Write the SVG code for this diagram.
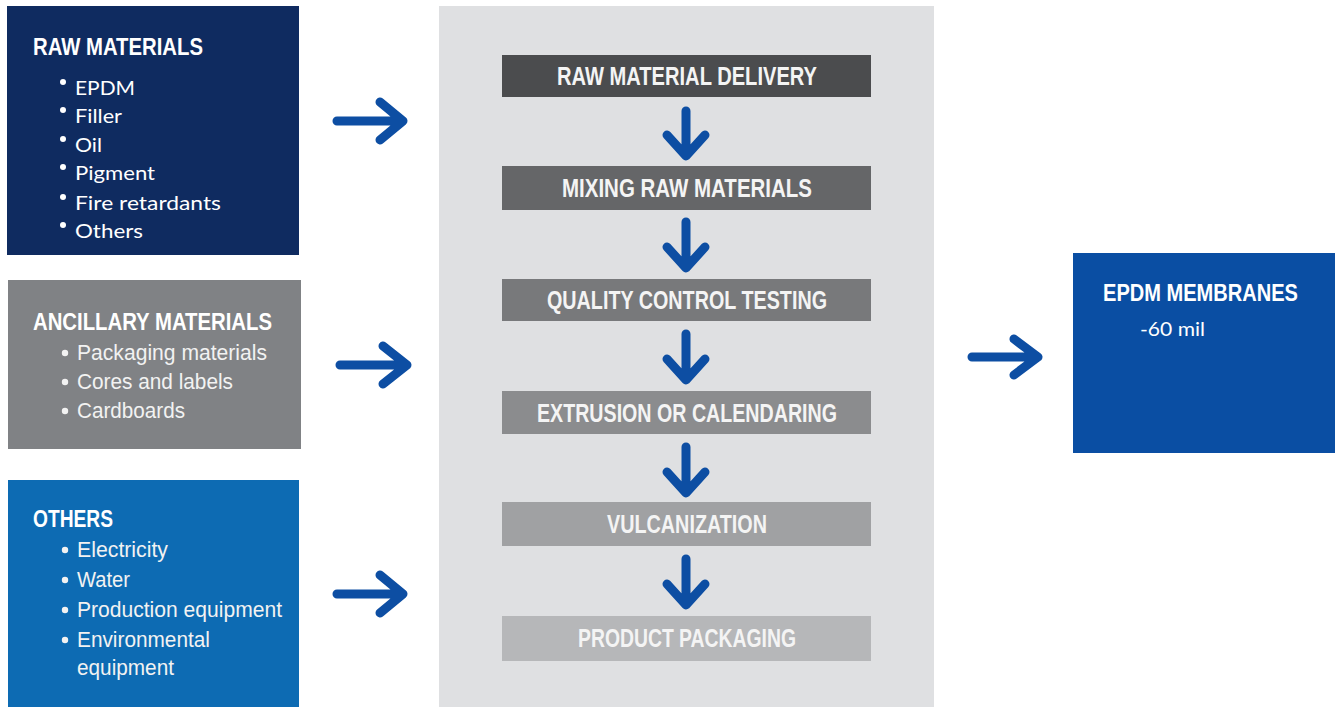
<svg xmlns="http://www.w3.org/2000/svg" width="1335" height="707" viewBox="0 0 1335 707">
<style>
.title{font-family:"Liberation Sans",Arial,sans-serif;font-weight:bold;font-size:23px;fill:#ffffff}
.step{font-family:"Liberation Sans",Arial,sans-serif;font-weight:bold;font-size:25px;fill:#f4f4f4}
.item{font-family:"Liberation Sans",Arial,sans-serif;font-size:22px;fill:#f2f2f2}
.cal{font-family:Lato,"Open Sans",sans-serif;font-size:19px;fill:#ffffff}
.arr{fill:none;stroke:#0d4ea3;stroke-width:9;stroke-linecap:round;stroke-linejoin:round}
</style>
<rect width="1335" height="707" fill="#ffffff"/>
<g id="raw-materials">
<rect x="7" y="6" width="292" height="249" fill="#0f2b60"/>
<text class="title" x="33" y="55" textLength="170" lengthAdjust="spacingAndGlyphs">RAW MATERIALS</text>
<g fill="#ffffff"><circle cx="63" cy="82" r="3"/><circle cx="63" cy="110" r="3"/><circle cx="63" cy="139" r="3"/><circle cx="63" cy="167" r="3"/><circle cx="63" cy="197" r="3"/><circle cx="63" cy="225" r="3"/></g>
<text class="cal" x="75" y="95" textLength="60" lengthAdjust="spacingAndGlyphs">EPDM</text>
<text class="cal" x="75" y="123" textLength="47" lengthAdjust="spacingAndGlyphs">Filler</text>
<text class="cal" x="75" y="152" textLength="27" lengthAdjust="spacingAndGlyphs">Oil</text>
<text class="cal" x="75" y="180" textLength="80" lengthAdjust="spacingAndGlyphs">Pigment</text>
<text class="cal" x="75" y="210" textLength="146" lengthAdjust="spacingAndGlyphs">Fire retardants</text>
<text class="cal" x="75" y="238" textLength="68" lengthAdjust="spacingAndGlyphs">Others</text>
</g>
<g id="ancillary-materials">
<rect x="8" y="280" width="293" height="169" fill="#808285"/>
<text class="title" x="33" y="330" textLength="239" lengthAdjust="spacingAndGlyphs">ANCILLARY MATERIALS</text>
<g fill="#f2f2f2"><circle cx="65" cy="353" r="3.2"/><circle cx="65" cy="382" r="3.2"/><circle cx="65" cy="411" r="3.2"/></g>
<text class="item" x="77" y="360" textLength="190" lengthAdjust="spacingAndGlyphs">Packaging materials</text>
<text class="item" x="77" y="389" textLength="156" lengthAdjust="spacingAndGlyphs">Cores and labels</text>
<text class="item" x="77" y="418" textLength="108" lengthAdjust="spacingAndGlyphs">Cardboards</text>
</g>
<g id="others">
<rect x="8" y="480" width="291" height="227" fill="#0d6bb3"/>
<text class="title" x="33" y="527" textLength="80" lengthAdjust="spacingAndGlyphs">OTHERS</text>
<g fill="#f2f2f2"><circle cx="65" cy="550" r="3.2"/><circle cx="65" cy="580" r="3.2"/><circle cx="65" cy="610" r="3.2"/><circle cx="65" cy="640" r="3.2"/></g>
<text class="item" x="77" y="557" textLength="91" lengthAdjust="spacingAndGlyphs">Electricity</text>
<text class="item" x="77" y="587" textLength="53" lengthAdjust="spacingAndGlyphs">Water</text>
<text class="item" x="77" y="617" textLength="205" lengthAdjust="spacingAndGlyphs">Production equipment</text>
<text class="item" x="77" y="647" textLength="133" lengthAdjust="spacingAndGlyphs">Environmental</text>
<text class="item" x="77" y="675" textLength="97" lengthAdjust="spacingAndGlyphs">equipment</text>
</g>
<g id="process-panel">
<rect x="439" y="6" width="495" height="701" fill="#dfe0e2"/>
</g>
<g id="step-raw-material-delivery">
<rect x="502" y="55" width="369" height="42" fill="#4b4c4e"/>
<text class="step" x="557" y="85" textLength="260" lengthAdjust="spacingAndGlyphs">RAW MATERIAL DELIVERY</text>
</g>
<g id="step-mixing">
<rect x="502" y="166" width="369" height="44" fill="#656668"/>
<text class="step" x="562" y="197" textLength="250" lengthAdjust="spacingAndGlyphs">MIXING RAW MATERIALS</text>
</g>
<g id="step-quality">
<rect x="502" y="279" width="369" height="42" fill="#78797b"/>
<text class="step" x="547" y="309" textLength="280" lengthAdjust="spacingAndGlyphs">QUALITY CONTROL TESTING</text>
</g>
<g id="step-extrusion">
<rect x="502" y="391" width="369" height="43" fill="#8b8c8e"/>
<text class="step" x="537" y="422" textLength="300" lengthAdjust="spacingAndGlyphs">EXTRUSION OR CALENDARING</text>
</g>
<g id="step-vulcanization">
<rect x="502" y="502" width="369" height="44" fill="#a0a1a3"/>
<text class="step" x="607" y="533" textLength="160" lengthAdjust="spacingAndGlyphs">VULCANIZATION</text>
</g>
<g id="step-packaging">
<rect x="502" y="616" width="369" height="45" fill="#b6b7b9"/>
<text class="step" x="578" y="647" textLength="218" lengthAdjust="spacingAndGlyphs">PRODUCT PACKAGING</text>
</g>
<g id="epdm-membranes">
<rect x="1073" y="253" width="262" height="200" fill="#0a4ea3"/>
<text class="title" x="1103" y="301" textLength="195" lengthAdjust="spacingAndGlyphs">EPDM MEMBRANES</text>
<text class="cal" x="1140" y="336" textLength="65" lengthAdjust="spacingAndGlyphs">-60 mil</text>
</g>
<g id="connectors" class="arr">
<path d="M337 121H402M380 102L403 121L380 140"/>
<path d="M340 365H406M383 346L407 365L383 384"/>
<path d="M337 594H402M380 575L403 594L380 613"/>
<path d="M972 357H1037M1014 339L1038 357L1014 375"/>
<path d="M686 111V155M667 135L686 156L705 135"/>
<path d="M686 222V267M667 247L686 268L705 247"/>
<path d="M686 334V379M667 359L686 380L705 359"/>
<path d="M686 447V492M667 472L686 493L705 472"/>
<path d="M686 559V604M667 584L686 605L705 584"/>
</g>
</svg>
